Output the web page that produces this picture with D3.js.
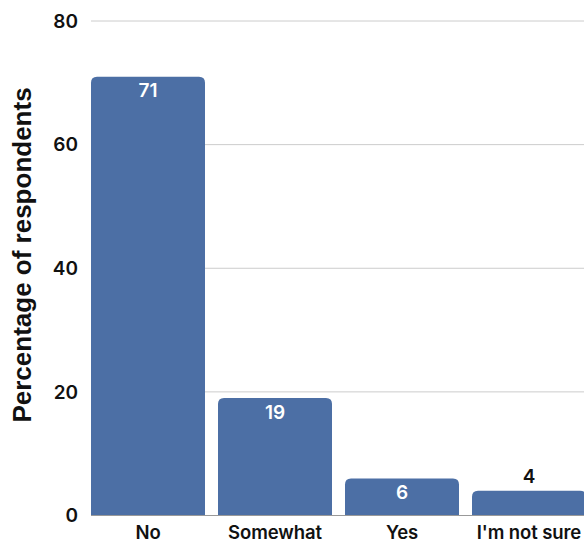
<!DOCTYPE html>
<html>
<head>
<meta charset="utf-8">
<script src="https://cdn.jsdelivr.net/npm/d3@7"></script>
<style>
  html, body { margin: 0; padding: 0; background: #fff; }
  svg { display: block; }
  text { font-family: "Inter", "Lato", sans-serif; }
</style>
</head>
<body>
<svg id="chart" width="584" height="543"></svg>
<script>
const categories = ["No", "Somewhat", "Yes", "I'm not sure"];
const values = [71, 19, 6, 4];
const yTicks = [0, 20, 40, 60, 80];
const yTitle = "Percentage of respondents";

const W = 584, H = 543;
const margin = { top: 21, left: 91, bottom: 27.5 };
const svg = d3.select("#chart");

const x = d3.scaleBand()
  .domain(categories)
  .range([margin.left, 586])
  .paddingInner(13 / 127)
  .paddingOuter(0);

const y = d3.scaleLinear()
  .domain([0, 80])
  .range([H - margin.bottom, margin.top]);

// horizontal gridlines
svg.append("g")
  .selectAll("line")
  .data(yTicks.filter(t => t > 0))
  .join("line")
  .attr("x1", margin.left).attr("x2", W)
  .attr("y1", d => y(d)).attr("y2", d => y(d))
  .attr("stroke", "#cccccc").attr("stroke-width", 1);

// tick labels
svg.append("g")
  .selectAll("text")
  .data(yTicks)
  .join("text")
  .attr("x", 78)
  .attr("y", d => y(d))
  .attr("dy", "0.36em")
  .attr("text-anchor", "end")
  .attr("font-size", 19)
  .attr("font-weight", 600)
  .attr("fill", "#111")
  .text(d => d);

// bars with rounded top corners
const r = 6;
function barPath(x0, w, yTop, yBase) {
  const rr = Math.min(r, (yBase - yTop), w / 2);
  return `M${x0},${yBase}V${yTop + rr}Q${x0},${yTop} ${x0 + rr},${yTop}` +
         `H${x0 + w - rr}Q${x0 + w},${yTop} ${x0 + w},${yTop + rr}V${yBase}Z`;
}
const data = categories.map((c, i) => ({ c, v: values[i] }));

svg.append("g")
  .selectAll("path")
  .data(data)
  .join("path")
  .attr("d", d => barPath(x(d.c), x.bandwidth(), y(d.v), y(0)))
  .attr("fill", "#4c6fa5");

// baseline
svg.append("line")
  .attr("x1", margin.left).attr("x2", W)
  .attr("y1", y(0)).attr("y2", y(0))
  .attr("stroke", "#999").attr("stroke-width", 1);

// value labels: inside tall bars, above short ones
svg.append("g")
  .selectAll("text")
  .data(data)
  .join("text")
  .attr("x", d => x(d.c) + x.bandwidth() / 2)
  .attr("y", d => (y(0) - y(d.v)) > 30 ? y(d.v) + 14 : y(d.v) - 15)
  .attr("dy", "0.36em")
  .attr("text-anchor", "middle")
  .attr("font-size", 19)
  .attr("font-weight", 600)
  .attr("fill", d => (y(0) - y(d.v)) > 30 ? "#fff" : "#111")
  .text(d => d.v);

// category labels
svg.append("g")
  .selectAll("text")
  .data(categories)
  .join("text")
  .attr("x", d => x(d) + x.bandwidth() / 2)
  .attr("y", 532.5)
  .attr("dy", "0.36em")
  .attr("text-anchor", "middle")
  .attr("font-size", 18.5)
  .attr("font-weight", 600)
  .attr("letter-spacing", "-0.1px")
  .attr("fill", "#111")
  .text(d => d);

// y-axis title
svg.append("text")
  .attr("transform", `translate(22,${255}) rotate(-90)`)
  .attr("text-anchor", "middle")
  .attr("dy", "0.36em")
  .attr("font-size", 26)
  .attr("font-weight", 700)
  .style("font-family", "'Liberation Sans', Arial, sans-serif")
  .attr("fill", "#111")
  .text(yTitle);
</script>
</body>
</html>
